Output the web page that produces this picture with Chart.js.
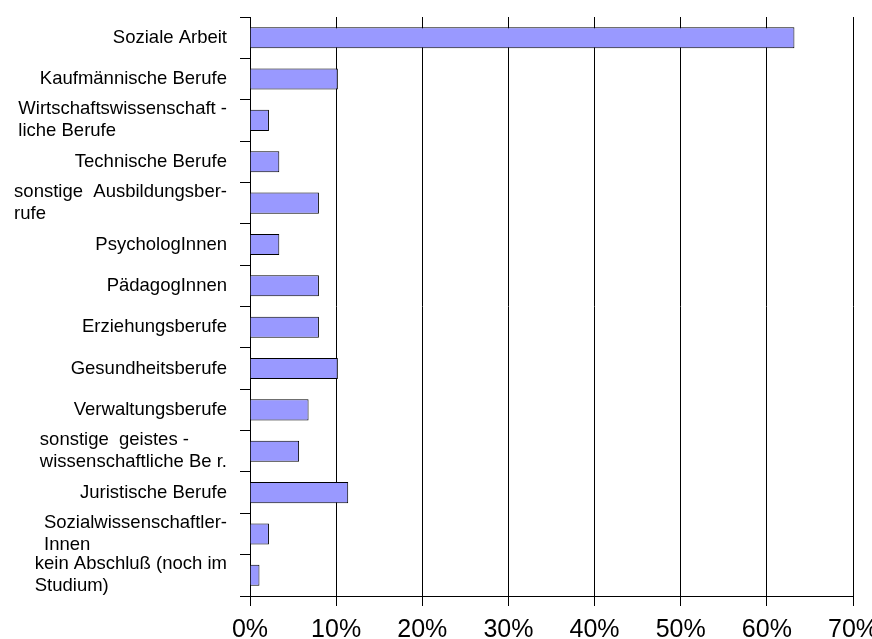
<!DOCTYPE html>
<html>
<head>
<meta charset="utf-8">
<script src="https://cdn.jsdelivr.net/npm/chart.js@4"></script>
<style>
  html, body { margin: 0; padding: 0; background: #fff; }
  canvas { display: block; }
</style>
</head>
<body>
<canvas id="chart" width="872" height="639"></canvas>
<script>
// Occupational background of staff (share of respondents, %)
const categories = [
  ["Soziale Arbeit"],
  ["Kaufmännische Berufe"],
  ["Wirtschaftswissenschaft -", "liche Berufe"],
  ["Technische Berufe"],
  ["sonstige  Ausbildungsber-", "rufe"],
  ["PsychologInnen"],
  ["PädagogInnen"],
  ["Erziehungsberufe"],
  ["Gesundheitsberufe"],
  ["Verwaltungsberufe"],
  ["sonstige  geistes -", "wissenschaftliche Be r."],
  ["Juristische Berufe"],
  ["Sozialwissenschaftler-", "Innen"],
  ["kein Abschluß (noch im", "Studium)"]
];
const shares = [63.2, 10.2, 2.2, 3.4, 8.0, 3.4, 8.0, 8.0, 10.2, 6.8, 5.7, 11.4, 2.2, 1.1];
const percentTicks = [0, 10, 20, 30, 40, 50, 60, 70];

const FONT = '"Liberation Sans", Arial, sans-serif';

// Category labels: single lines right-aligned to the axis, wrapped labels left-aligned as a block
const categoryLabels = {
  id: 'categoryLabels',
  afterDraw(chart) {
    const y = chart.scales.y;
    const ctx = chart.ctx;
    ctx.save();
    ctx.font = '18.5px ' + FONT;
    ctx.fillStyle = '#000';
    ctx.textBaseline = 'middle';
    ctx.textAlign = 'left';
    const right = y.right - 23;
    const lineH = 22;
    categories.forEach((lines, i) => {
      const cy = y.getPixelForValue(i);
      const w = Math.max(...lines.map(l => ctx.measureText(l).width));
      const left = right - w;
      lines.forEach((l, k) => {
        ctx.fillText(l, left, cy + (k - (lines.length - 1) / 2) * lineH);
      });
    });
    ctx.restore();
  }
};

// Percent labels under the value axis, set low near the bottom edge
const percentLabels = {
  id: 'percentLabels',
  afterDraw(chart) {
    const x = chart.scales.x;
    const ctx = chart.ctx;
    ctx.save();
    ctx.font = '25px ' + FONT;
    ctx.fillStyle = '#000';
    ctx.textAlign = 'center';
    ctx.textBaseline = 'alphabetic';
    const baseline = x.top + 41;
    percentTicks.forEach(v => {
      ctx.fillText(v + '%', x.getPixelForValue(v), baseline);
    });
    ctx.restore();
  }
};

new Chart(document.getElementById('chart'), {
  type: 'bar',
  data: {
    labels: categories.map(l => l.join(' ')),
    datasets: [{
      data: shares,
      backgroundColor: '#9999ff',
      borderColor: '#000',
      borderWidth: 1,
      categoryPercentage: 1,
      barPercentage: 0.51
    }]
  },
  options: {
    indexAxis: 'y',
    responsive: false,
    devicePixelRatio: 1,
    animation: false,
    layout: { padding: { top: 17, right: 19, left: 0, bottom: 0 } },
    plugins: { legend: { display: false }, tooltip: { enabled: false } },
    scales: {
      x: {
        min: 0,
        max: 70,
        afterBuildTicks(scale) {
          scale.ticks = percentTicks.map(v => ({ value: v }));
        },
        afterFit(scale) {
          scale.height = 43;
          scale.paddingLeft = 0;
          scale.paddingRight = 0;
        },
        grid: {
          color: '#000',
          lineWidth: 1,
          tickLength: 10,
          drawTicks: true
        },
        border: { display: true, color: '#000', width: 1 },
        ticks: { display: false }
      },
      y: {
        afterFit(scale) {
          scale.width = 250;
          scale.paddingTop = 0;
          scale.paddingBottom = 0;
        },
        grid: {
          offset: true,
          drawOnChartArea: false,
          drawTicks: true,
          tickLength: 10,
          color: ctx => (ctx.index === categories.length ? 'rgba(0,0,0,0)' : '#000'),
          lineWidth: 1
        },
        border: { display: true, color: '#000', width: 1 },
        ticks: { display: false }
      }
    }
  },
  plugins: [categoryLabels, percentLabels]
});
</script>
</body>
</html>
